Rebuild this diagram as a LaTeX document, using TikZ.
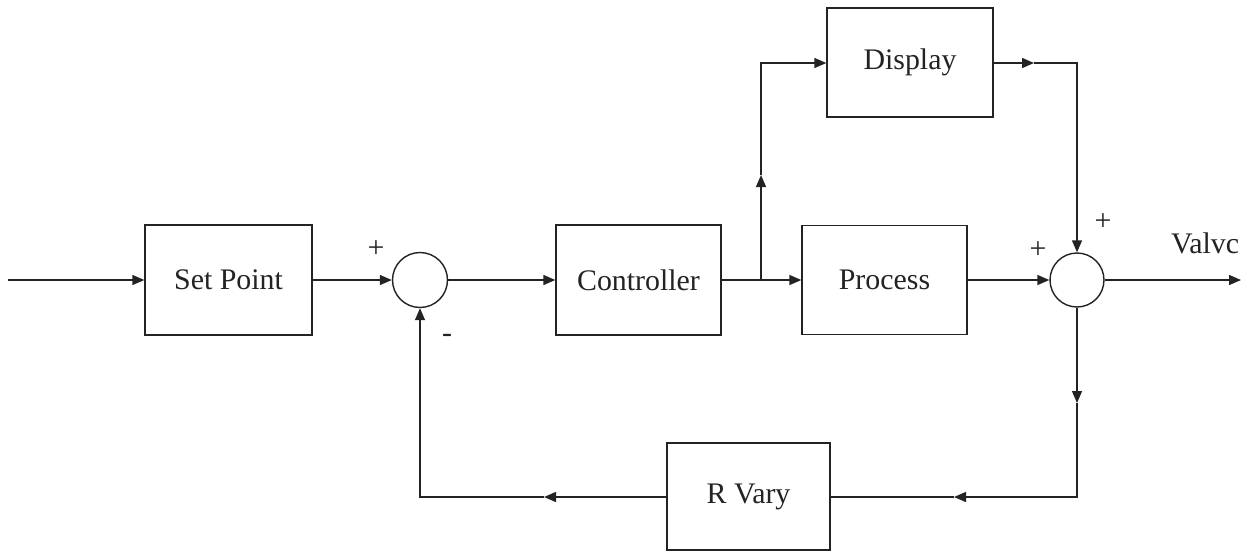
\documentclass[tikz,border=0pt]{standalone}
\usepackage{fontspec}
\setmainfont{Liberation Serif}
\usetikzlibrary{arrows.meta}
\definecolor{ink}{RGB}{35,35,35}
\tikzset{
  wire/.style={draw=ink, line width=0.8pt},
  arr/.style={wire, -{Triangle[length=0.24cm,width=0.2cm]}},
  blk/.style={draw=ink, line width=0.8pt, rectangle, minimum width=3.3cm, minimum height=2.2cm, inner sep=0pt, font=\fontsize{17}{20}\selectfont, text=ink},
  sumc/.style={draw=ink, line width=0.8pt, circle, minimum size=1.1cm, inner sep=0pt},
  lbl/.style={font=\fontsize{17}{20}\selectfont, text=ink, inner sep=0pt}
}
\begin{document}
\begin{tikzpicture}[x=0.02cm,y=-0.02cm]
\useasboundingbox[fill=white] (0,0) rectangle (1256,552);
% blocks
\node[blk, minimum width=3.34cm] (sp) at (228.5,280) {Set Point};
\node[sumc] (s1) at (420,280) {};
\node[blk] (ctrl) at (638.5,280) {Controller};
\node[blk, minimum height=2.18cm] (proc) at (884.5,280) {Process};
\node[blk, minimum width=3.32cm, minimum height=2.18cm] (disp) at (910,62.5) {Display};
\node[sumc, minimum size=1.08cm] (s2) at (1077,280) {};
\node[blk, minimum width=3.26cm, minimum height=2.14cm] (rv) at (748.5,496.5) {R Vary};
% coordinates
\coordinate (in) at (8,280);
\coordinate (out) at (1241,280);
\coordinate (br) at (761,280);
\coordinate (upT) at (761,175);
\coordinate (c1) at (761,63);
\coordinate (rT) at (1034,63);
\coordinate (c2) at (1077,63);
\coordinate (dT) at (1077,403);
\coordinate (c3) at (1077,497);
\coordinate (lT1) at (954,497);
\coordinate (lT2) at (544,497);
\coordinate (c4) at (420,497);
% forward path
\draw[arr] (in) -- (sp.west);
\draw[arr] (sp.east) -- (s1.west);
\draw[arr] (s1.east) -- (ctrl.west);
\draw[arr] (ctrl.east) -- (proc.west);
\draw[arr] (proc.east) -- (s2.west);
\draw[arr] (s2.east) -- (out);
% display branch
\draw[arr] (br) -- (upT);
\draw[arr] (upT) -- (c1) -- (c1 -| disp.west);
\draw[arr] (disp.east |- rT) -- (rT);
\draw[arr] (rT) -- (c2) -- (s2.north);
% feedback
\draw[arr] (s2.south) -- (dT);
\draw[arr] (dT) -- (c3) -- (lT1);
\draw[wire] (lT1) -- (rv.east |- lT1);
\draw[arr] (rv.west |- lT2) -- (lT2);
\draw[arr] (lT2) -- (c4) -- (s1.south);
% labels
\node[lbl] (p1) at (376,249) {+};
\node[lbl] (m1) at (447,338) {-};
\node[lbl] (p2) at (1038,250) {+};
\node[lbl] (p3) at (1103,222) {+};
\node[lbl] (vl) at (1205,243) {Valvc};
\end{tikzpicture}
\end{document}
